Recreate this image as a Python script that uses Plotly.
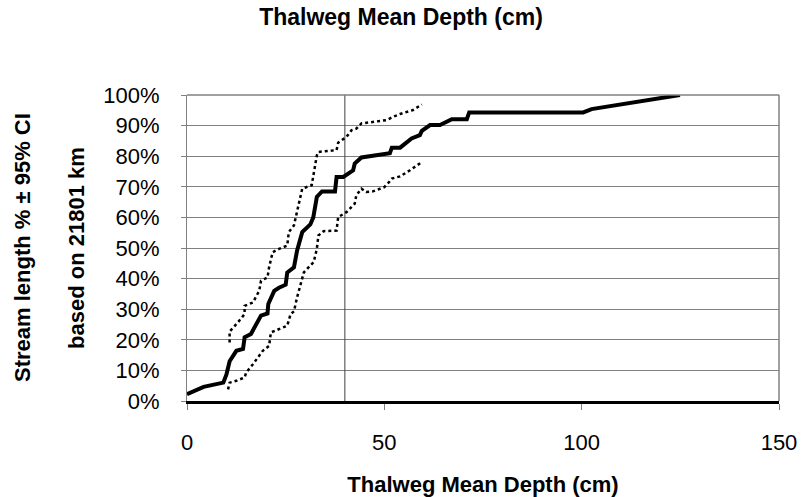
import plotly.graph_objects as go

# Cumulative distribution (estimate) of thalweg mean depth
est_x = [0, 4.2, 9.2, 10, 10.8, 12.5, 14.2, 14.6, 16.2, 17.5, 18.75, 20.4, 20.6, 22.1, 23.3, 25, 25.4,
         27.1, 27.9, 29.2, 31.25, 32.0, 32.9, 34.2, 37.5, 37.9, 39.6, 42.1, 42.5, 44.2, 46.7, 48.9,
         51.4, 51.9, 54, 56.9, 59, 59.5, 61.6, 64.1, 67.1, 70.9, 71.5, 100.4, 102.5, 124.9]
est_y = [2.2, 4.6, 6.0, 8.7, 13.0, 16.4, 17.0, 20.8, 21.9, 25.0, 27.9, 28.6, 31.7, 36.0, 37.0, 38.0, 42.0,
         43.7, 49.2, 55.2, 57.7, 60.0, 66.7, 68.5, 68.5, 73.2, 73.2, 75.4, 77.6, 79.6, 80.0, 80.5,
         81.0, 82.8, 82.8, 85.8, 86.9, 88.3, 90.2, 90.2, 92.1, 92.1, 94.3, 94.3, 95.4, 100.0]

# Upper 95% confidence bound
upper_x = [10.8, 10.8, 12.9, 14.6, 14.6, 16.7, 18.3, 18.75, 20.4, 20.8, 21.7, 23.3, 25.4, 25.8, 27.1,
           27.9, 29.2, 31.6, 32.1, 32.9, 33.3, 37.9, 38.3, 40.4, 41.7, 42.9, 44.2, 47.5, 50.6, 52.3,
           54, 57.3, 59.5]
upper_y = [19.1, 22.7, 25.7, 28.4, 31.1, 32.2, 36.0, 39.3, 40.4, 43.7, 48.6, 49.7, 50.8, 55.2, 57.4,
           62.3, 69.4, 70.5, 73.8, 80.3, 81.4, 82.0, 84.4, 86.3, 88.5, 89.0, 90.7, 91.3, 91.8, 92.9,
           93.8, 95.1, 96.9]

# Lower 95% confidence bound
lower_x = [10.4, 10.8, 12.5, 14.6, 15, 16.7, 19.2, 20.8, 21.25, 23.3, 25.4, 26.25, 27.1, 27.9, 28.75,
           29.6, 31.25, 32.1, 32.9, 33.3, 34.6, 37.9, 38.3, 40.4, 42.5, 42.9, 44.2, 45.4, 47.1, 50,
           51.25, 51.9, 54, 56.5, 59.5]
lower_y = [3.8, 6.0, 6.6, 7.7, 9.3, 12.0, 16.4, 18.0, 22.4, 23.5, 24.6, 28.4, 29.3, 33.9, 38.3,
           42.0, 44.3, 45.4, 49.7, 54.1, 55.5, 55.7, 60.1, 61.7, 64.5, 67.2, 69.4, 68.3, 68.5, 69.9,
           71.6, 72.7, 73.4, 75.4, 78.1]

criterion_x = 40
x_ticks = [0, 50, 100, 150]

font_family = "Liberation Sans, Arial, sans-serif"
W, H = 802, 497
L, R, T, B = 187, 23, 95, 96
PW = W - L - R

fig = go.Figure()
fig.add_trace(go.Scatter(x=[criterion_x, criterion_x], y=[0, 1], mode="lines",
                         line=dict(color="#404040", width=1), showlegend=False, hoverinfo="skip"))
fig.add_trace(go.Scatter(x=upper_x, y=[v / 100 for v in upper_y], mode="lines",
                         line=dict(color="black", width=2.5, dash="3px,3px"), showlegend=False))
fig.add_trace(go.Scatter(x=lower_x, y=[v / 100 for v in lower_y], mode="lines",
                         line=dict(color="black", width=2.5, dash="3px,3px"), showlegend=False))
fig.add_trace(go.Scatter(x=est_x, y=[v / 100 for v in est_y], mode="lines",
                         line=dict(color="black", width=4), showlegend=False))

fig.update_layout(
    width=W, height=H,
    margin=dict(l=L, r=R, t=T, b=B),
    paper_bgcolor="white", plot_bgcolor="white",
    font=dict(family=font_family, color="black"),
    title=dict(text="<b>Thalweg Mean Depth (cm)</b>", x=0.5, xanchor="center",
               y=1 - 17 / H, yanchor="middle", font=dict(size=23, family=font_family)),
    xaxis=dict(range=[0, 150], tickvals=x_ticks, showgrid=False, zeroline=False,
               showline=True, linecolor="black", linewidth=2.5, mirror=False,
               ticks="outside", ticklen=6, tickcolor="#808080", tickwidth=1,
               tickfont=dict(size=22), ticklabelstandoff=14, automargin=False,
               title=dict(text="<b>Thalweg Mean Depth (cm)</b>", font=dict(size=22), standoff=24)),
    yaxis=dict(range=[0, 1], dtick=0.1, tickformat=".0%", showgrid=True, gridcolor="#808080",
               gridwidth=1, zeroline=False, showline=True, linecolor="#808080", linewidth=1,
               ticks="outside", ticklen=5, tickcolor="#808080", tickwidth=1,
               tickfont=dict(size=22), ticklabelstandoff=17, automargin=False),
    shapes=[dict(type="line", xref="paper", yref="paper", x0=1, x1=1, y0=0, y1=1,
                 line=dict(color="#808080", width=1.5)),
            dict(type="line", xref="paper", yref="paper", x0=0, x1=1, y0=1, y1=1,
                 line=dict(color="#808080", width=1.5))],
    annotations=[
        dict(text="<b>Stream length % ± 95% CI</b>", xref="paper", yref="paper",
             x=(22 - L) / PW, y=0.5, textangle=-90, showarrow=False, font=dict(size=22),
             xanchor="center", yanchor="middle"),
        dict(text="<b>based on 21801 km</b>", xref="paper", yref="paper",
             x=(76 - L) / PW, y=0.5, textangle=-90, showarrow=False, font=dict(size=22),
             xanchor="center", yanchor="middle"),
    ],
)

fig.write_html("out.html", config={"displayModeBar": False},
               post_script="document.body.style.margin='0';document.body.style.padding='0';"
                           "document.body.style.overflow='hidden';")
